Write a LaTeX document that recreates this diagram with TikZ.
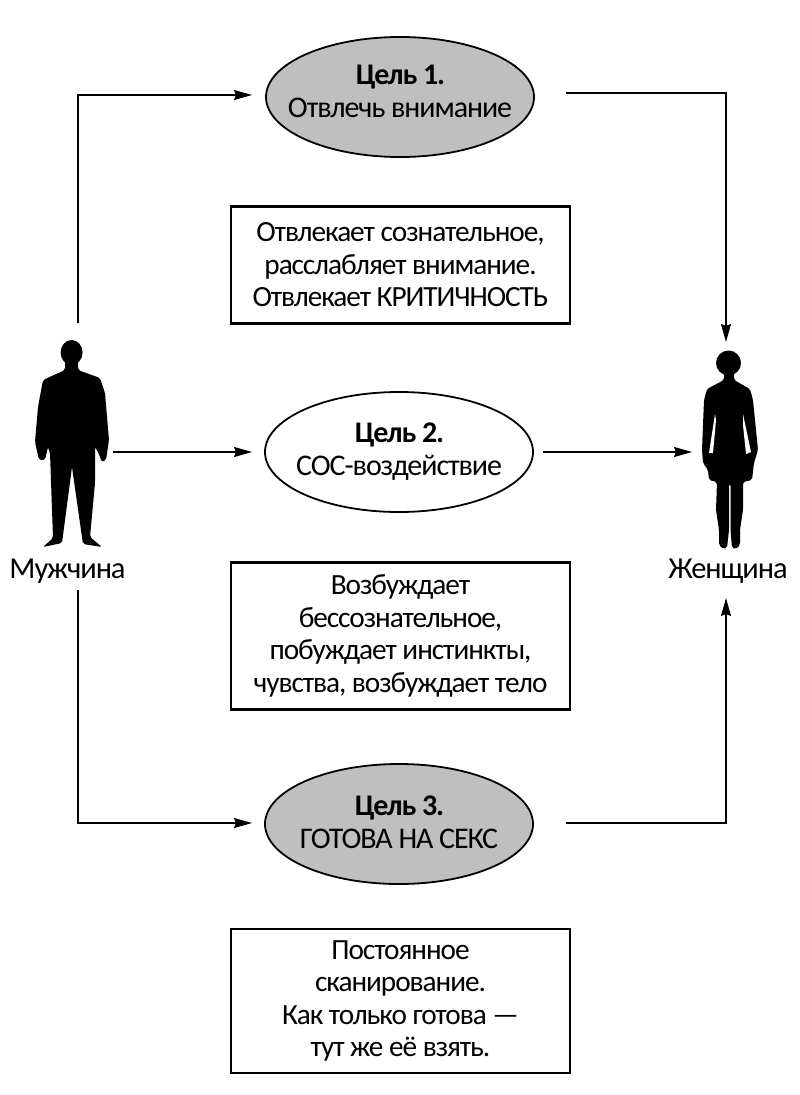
\documentclass[tikz,border=0pt]{standalone}
\usepackage{fontspec}
\setmainfont{Carlito}[LetterSpace=-3.6]
\usetikzlibrary{shapes.geometric,arrows.meta,calc}
\tikzset{
 goal/.style={draw=black,line width=1.8pt,ellipse,minimum width=268pt,minimum height=120pt,inner xsep=-30pt,inner ysep=0pt,align=center,font=\fontsize{30}{33}\selectfont},
 grey/.style={fill=black!25},
 notebox/.style={draw=black,line width=2.2pt,minimum width=339pt,align=center,font=\fontsize{29.3}{32.5}\selectfont,inner sep=0pt},
 who/.style={font=\fontsize{30.5}{30}\selectfont,inner sep=0pt},
 figbox/.style={inner sep=0pt,minimum width=70pt,minimum height=210pt},
 link/.style={line width=1.1pt,-{Stealth[length=18pt,width=10pt,inset=2pt]}},
}
\begin{document}
\begin{tikzpicture}[x=1pt,y=-1pt]
\useasboundingbox (0,0) rectangle (800,1095);
\node[goal,grey] (g1) at (400,97) {\textbf{Цель 1.}\\Отвлечь внимание\\[-31pt]\strut};
\node[goal] (g2) at (399,452) {\textbf{Цель 2.}\\СОС-воздействие};
\node[goal,grey] (g3) at (399,824) {\textbf{Цель 3.}\\ГОТОВА НА СЕКС\\[-39pt]\strut};
\node[notebox,minimum height=117pt] (n1) at (400.5,265) {Отвлекает сознательное,\\расслабляет внимание.\\Отвлекает КРИТИЧНОСТЬ};
\node[notebox,minimum height=147pt] (n2) at (400.5,636) {Возбуждает\\бессознательное,\\побуждает инстинкты,\\чувства, возбуждает тело};
\node[notebox,minimum height=144pt] (n3) at (400.5,1001) {Постоянное\\сканирование.\\Как только готова —\\тут же её взять.};
\node[who] (mlabel) at (67.5,571) {Мужчина};
\node[who] (wlabel) at (728,571) {Женщина};
\node[figbox] (man) at (72,444) {};
\node[figbox] (woman) at (729,452) {};
% man silhouette
\fill[black] (71.6,352.5) ellipse [x radius=11,y radius=12.5];
\fill[black,rounded corners=2pt] (65,360) -- (78,360) -- (78,370) -- (100,378) -- (105,393) -- (109,440) -- (106,460) -- (102,462) -- (98,452) -- (95,447) -- (95,483) -- (90,537) -- (102,547) -- (83,544) -- (72,467) -- (62,543) -- (43,547) -- (53,538) -- (50,453) -- (48,447) -- (45,460) -- (39,460) -- (35,442) -- (38,407) -- (43,380) -- (65,370) -- cycle;
% woman silhouette
\fill[black] (728.5,363) circle (12.5);
\fill[black,rounded corners=2pt] (724,370) -- (734,370) -- (734,380) -- (750,389) -- (753,400) -- (758,450) -- (754,463) -- (752,480) -- (743,482) -- (743,510) -- (740,530) -- (740,545) -- (736,549) -- (732,548) -- (730.5,530) -- (730.5,484) -- (729,484) -- (729,530) -- (727,548) -- (723,549) -- (719,545) -- (719,530) -- (716,510) -- (717,482) -- (709,480) -- (708,470) -- (703,463) -- (702,450) -- (704,400) -- (707,389) -- (724,380) -- cycle;
\fill[white] (715,414) -- (716,420) -- (713,453) -- (709,453) -- cycle;
\fill[white] (743,414) -- (751,452) -- (746,454) -- (743,425) -- cycle;
% connectors
\coordinate (a1) at (78,323);
\coordinate (a1end) at (252,95);
\coordinate (b1) at (566,93);
\coordinate (b1end) at (726,342);
\coordinate (a2) at (113,452);
\coordinate (a2end) at (252,452);
\coordinate (b2) at (543,452);
\coordinate (b2end) at (692,452);
\coordinate (a3) at (78,590);
\coordinate (a3end) at (252,823);
\coordinate (b3) at (566,823);
\coordinate (b3end) at (726,598);
\draw[link] (a1) |- (a1end);
\draw[link] (b1) -| (b1end);
\draw[link] (a2) -- (a2end);
\draw[link] (b2) -- (b2end);
\draw[link] (a3) |- (a3end);
\draw[link] (b3) -| (b3end);
\end{tikzpicture}
\end{document}
